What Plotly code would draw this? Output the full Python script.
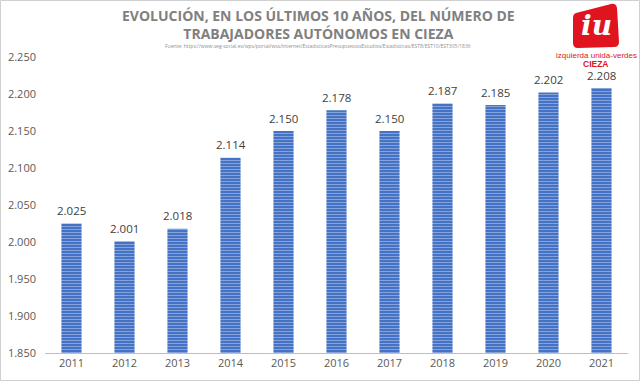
import plotly.graph_objects as go

years = ["2011", "2012", "2013", "2014", "2015", "2016", "2017", "2018", "2019", "2020", "2021"]
values = [2025, 2001, 2018, 2114, 2150, 2178, 2150, 2187, 2185, 2202, 2208]
y_ticks = [1850, 1900, 1950, 2000, 2050, 2100, 2150, 2200, 2250]

W, H = 640, 381
ML, MR, MT, MB = 45, 12, 57, 28
PW, PH = W - ML - MR, H - MT - MB


def px(x):
    return (x - ML) / PW


def py(y):
    return 1 - (y - MT) / PH


fig = go.Figure()
fig.add_trace(go.Bar(
    x=years, y=values,
    marker=dict(color="#4472C4", line=dict(width=0),
                pattern=dict(shape="-", fgcolor="#C5D3EE", size=3, solidity=0.35)),
    hoverinfo="skip",
))

for i, v in enumerate(values):
    fig.add_annotation(x=i, y=v, xref="x", yref="y", text=f"{v/1000:.3f}", showarrow=False,
                       yanchor="middle", yshift=13,
                       font=dict(family="Open Sans", size=11.5, color="#404040"))

logo_path = "M {} {} L {} {} Q {} {} {} {} L {} {} Q {} {} {} {} L {} {} Q {} {} {} {} L {} {} Q {} {} {} {} Z".format(
    px(576), py(13), px(611), py(4), px(616), py(3), px(617), py(8),
    px(619), py(42), px(619), py(47), px(614), py(47), px(578), py(48),
    px(573), py(48), px(573), py(43), px(573), py(18), px(573), py(14), px(576), py(13))

fig.update_layout(
    width=W, height=H,
    margin=dict(l=ML, r=MR, t=MT, b=MB, autoexpand=False),
    paper_bgcolor="white", plot_bgcolor="white",
    separators=",.",
    bargap=0.62,
    showlegend=False,
    font=dict(family="Open Sans", color="#595959"),
    xaxis=dict(type="category", showline=True, linecolor="#BFBFBF", linewidth=1, ticks="",
               tickfont=dict(size=11, color="#595959")),
    yaxis=dict(range=[1850, 2250], tickvals=y_ticks, tickformat=",d", showgrid=False,
               zeroline=False, showline=False, ticks="", ticklabelstandoff=8,
               tickfont=dict(size=11, color="#595959")),
    shapes=[
        dict(type="rect", xref="paper", yref="paper", x0=px(0.5), x1=px(W - 0.5), y0=py(H - 0.5), y1=py(0.5),
             line=dict(color="#D0D0D0", width=1), fillcolor="rgba(0,0,0,0)"),
        dict(type="path", xref="paper", yref="paper", path=logo_path,
             fillcolor="#E0141E", line=dict(width=0)),
    ],
)

anns = [
    ("<b>EVOLUCIÓN, EN LOS ÚLTIMOS 10 AÑOS, DEL NÚMERO DE</b><br><b>TRABAJADORES AUTÓNOMOS EN CIEZA</b>",
     318, 24.5, 14, "#808080", "Open Sans"),
    ("Fuente: https://www.seg-social.es/wps/portal/wss/internet/EstadisticasPresupuestosEstudios/Estadisticas/EST8/EST10/EST305/1836",
     318, 46, 5, "#8F8F8F", "Open Sans"),
    ("<b><i>iu</i></b>", 596, 26, 28, "white", "DejaVu Serif"),
    ("izquierda unida-verdes", 596, 55.5, 8, "#E0141E", "Liberation Sans"),
    ("<b>CIEZA</b>", 596, 64, 8.5, "#E0141E", "Liberation Sans"),
]
for text, x, y, size, color, fam in anns:
    fig.add_annotation(text=text, x=px(x), y=py(y), xref="paper", yref="paper",
                       xanchor="center", yanchor="middle", showarrow=False,
                       font=dict(size=size, color=color, family=fam))

fig.write_html("out.html", config={"displayModeBar": False},
               post_script="document.body.style.margin='0';")
